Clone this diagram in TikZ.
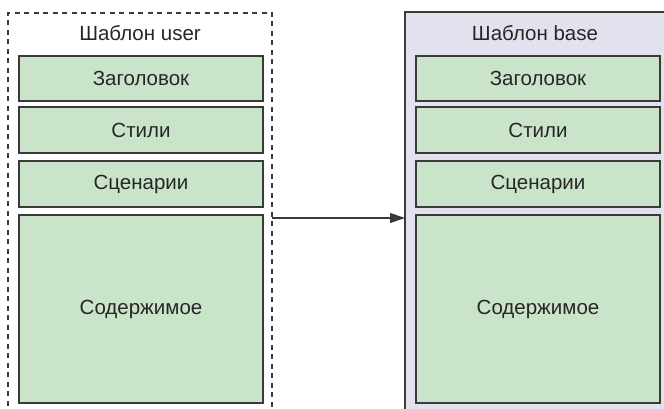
\documentclass[tikz,border=0pt]{standalone}
\usepackage{fontspec}
\setmainfont{Liberation Sans}
\usetikzlibrary{arrows.meta}
\definecolor{partfill}{HTML}{CAE4CA}
\definecolor{basefill}{HTML}{E2E2EE}
\definecolor{edge}{HTML}{3A3A3A}
\tikzset{
  part/.style={draw=edge, line width=1.4pt, fill=partfill},
  lbl/.style={font=\fontsize{20.5}{24}\selectfont, text=black!85},
}
\begin{document}
\begin{tikzpicture}[x=1pt,y=-1pt]
\useasboundingbox (0,0) rectangle (664,409);
% base template container (open at the bottom and right)
\fill[basefill] (405,12) rectangle (670,415);
\draw[edge, line width=1.1pt] (405,415) -- (405,12) -- (670,12);
% user template container, dashed
\draw[edge, line width=1.1pt, dash pattern=on 5pt off 4.5pt] (8,415) -- (8,13) -- (272,13) -- (272,415);
\node[lbl] (tu) at (140,33) {Шаблон user};
\node[lbl] (tb) at (535,33) {Шаблон base};
% blocks of the user template
\draw[part] (19,56) rectangle (263,101) node[midway, lbl] (u1) {Заголовок};
\draw[part] (19,107) rectangle (263,153) node[midway, lbl] (u2) {Стили};
\draw[part] (19,161) rectangle (263,207) node[midway, lbl] (u3) {Сценарии};
\draw[part] (19,215) rectangle (263,403) node[midway, lbl] (u4) {Содержимое};
% blocks of the base template
\draw[part] (416,56) rectangle (660,101) node[midway, lbl] (b1) {Заголовок};
\draw[part] (416,107) rectangle (660,153) node[midway, lbl] (b2) {Стили};
\draw[part] (416,161) rectangle (660,207) node[midway, lbl] (b3) {Сценарии};
\draw[part] (416,215) rectangle (660,403) node[midway, lbl] (b4) {Содержимое};
% inheritance arrow
\coordinate (from) at (272,218);
\coordinate (to) at (405,218);
\draw[edge, line width=1.1pt, -{Triangle[length=15pt,width=10pt]}] (from) -- (to);
\end{tikzpicture}
\end{document}
